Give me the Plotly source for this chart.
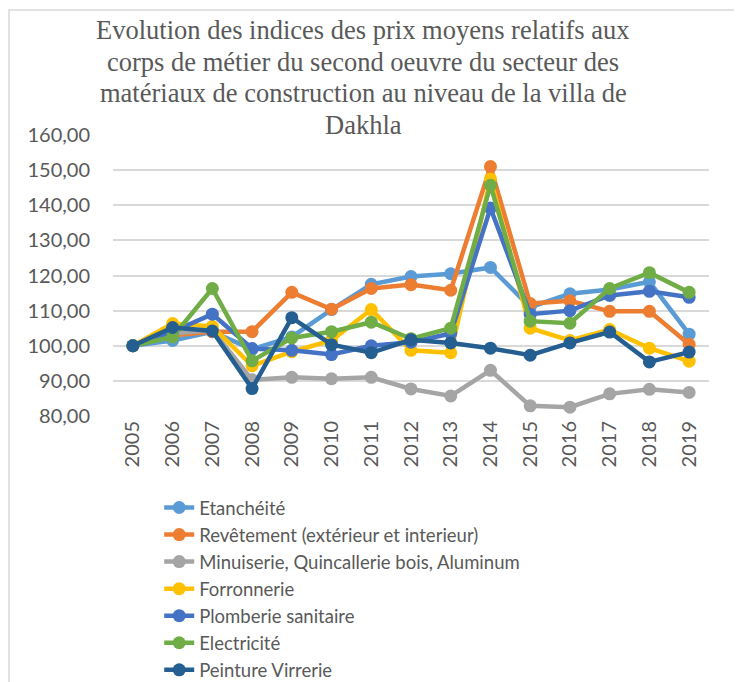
import plotly.graph_objects as go

years = ["2005", "2006", "2007", "2008", "2009", "2010", "2011", "2012",
         "2013", "2014", "2015", "2016", "2017", "2018", "2019"]

etancheite = [100, 101.5, 104, 99, 102.5, 110.3, 117.5, 119.7, 120.5, 122.3, 111, 114.8, 116, 118.2, 103.3]
revetement = [100, 103, 104, 104, 115.2, 110.4, 116.3, 117.4, 115.8, 151, 112, 112.8, 109.8, 109.8, 100.4]
menuiserie = [100, 103.5, 104.5, 90.3, 91, 90.6, 91, 87.7, 85.7, 93, 82.9, 82.5, 86.3, 87.6, 86.7]
forronnerie = [100, 106.3, 105.5, 94.3, 98.3, 101.5, 110.3, 98.7, 98, 147.5, 105, 101.5, 104.6, 99.3, 95.6]
plomberie = [100, 104, 109, 99.2, 98.7, 97.5, 100, 101, 103.5, 139.2, 109, 110, 114.3, 115.5, 113.8]
electricite = [100, 102.5, 116.3, 95.7, 102.2, 104, 106.7, 102, 105, 145.7, 107, 106.4, 116.3, 120.8, 115.2]
peinture = [100, 105.2, 104.2, 87.8, 108, 100.3, 98, 101.7, 100.8, 99.3, 97.3, 100.8, 103.9, 95.4, 98.2]

names = ["Etanchéité", "Revêtement (extérieur et interieur)",
         "Minuiserie, Quincallerie bois, Aluminum", "Forronnerie",
         "Plomberie sanitaire", "Electricité", "Peinture Virrerie"]
series = [etancheite, revetement, menuiserie, forronnerie, plomberie, electricite, peinture]
colors = ["#5B9BD5", "#ED7D31", "#A5A5A5", "#FFC000", "#4472C4", "#70AD47", "#255E91"]

title_lines = ["Evolution des indices des prix moyens relatifs aux",
               "corps de métier du second oeuvre du secteur des",
               "matériaux de construction au niveau de la villa de",
               "Dakhla"]

fig = go.Figure()
for name, vals, col in zip(names, series, colors):
    fig.add_trace(go.Scatter(
        x=years, y=vals, name=name, legendgroup=name,
        mode="lines+markers",
        line=dict(color=col, width=4.5),
        marker=dict(color=col, size=13),
    ))

# page body adds 8px, so the figure is 734x674 and plot area is 105..701 x 127..408
for i, line in enumerate(title_lines):
    ypx = 30 + i * 31.5
    fig.add_annotation(text=line, xref="paper", yref="paper",
                       x=(363 - 113) / 596, y=(416 - ypx) / 281,
                       xanchor="center", yanchor="middle", showarrow=False,
                       font=dict(family="Liberation Serif", size=26.5, color="#595959"))

fig.update_layout(
    width=734, height=674,
    margin=dict(l=105, r=33, t=127, b=266, autoexpand=False),
    paper_bgcolor="white", plot_bgcolor="white",
    separators=", ",
    font=dict(family="Lato", size=20, color="#595959"),
    showlegend=True,
    legend=dict(xref="container", yref="container", x=0.206, y=0.2864,
                xanchor="left", yanchor="top",
                tracegroupgap=0, font=dict(size=18.5, color="#595959"),
                bgcolor="rgba(0,0,0,0)"),
    shapes=[dict(type="rect", xref="paper", yref="paper",
                 x0=(9 - 113) / 596, x1=1.2, y0=-1.5, y1=1 + (135 - 10) / 281,
                 line=dict(color="#D9D9D9", width=1.5), layer="below")],
)
fig.update_xaxes(range=[-0.5, 14.5], tickangle=-90, showgrid=False, showline=False,
                 ticks="", tickfont=dict(size=20, color="#595959"))
fig.update_yaxes(range=[80, 160], dtick=10, tickformat=".2f",
                 gridcolor="#D9D9D9", gridwidth=1.5, zeroline=False,
                 ticklabelstandoff=22, tickfont=dict(size=20, color="#595959"))

fig.write_html("out.html")
